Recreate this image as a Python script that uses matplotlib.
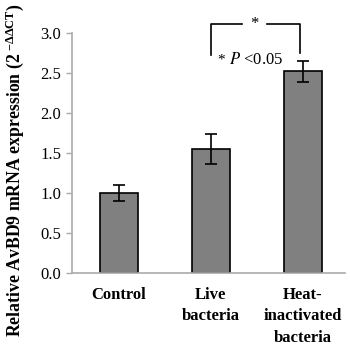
import matplotlib.pyplot as plt
import numpy as np

plt.rcParams['font.family'] = 'Liberation Serif'
plt.rcParams['mathtext.fontset'] = 'stix'

groups = ['Control', 'Live\nbacteria', 'Heat-\ninactivated\nbacteria']
expr = [1.0, 1.55, 2.52]
err = [0.1, 0.19, 0.13]

fig = plt.figure(figsize=(3.5, 3.47), dpi=100)
ax = fig.add_axes([0.206, 0.213, 0.78, 0.692])

x = np.arange(len(groups))
ax.bar(x, expr, width=0.41, color='#808080', edgecolor='black', linewidth=1.2,
       yerr=err, capsize=4, error_kw=dict(elinewidth=1.2, capthick=1.2, ecolor='black'))

ax.set_xlim(-0.51, 2.46)
ax.set_ylim(0, 3.0)
ticks = np.arange(0, 3.01, 0.5)
ax.set_yticks(ticks)
ax.set_yticklabels(['%.1f' % v for v in ticks], fontsize=12)
ax.set_xticks(x)
ax.set_xticklabels(groups, fontsize=12, fontweight='bold', linespacing=1.45)
ax.tick_params(axis='x', length=0, pad=10)
ax.tick_params(axis='y', length=4, color='#aaaaaa', width=1, pad=4)
for s in ['top', 'right']:
    ax.spines[s].set_visible(False)
for s in ['left', 'bottom']:
    ax.spines[s].set_color('#aaaaaa')
    ax.spines[s].set_linewidth(1.2)

ax.set_ylabel(r'Relative AvBD9 mRNA expression (2$^{\ \mathregular{-\Delta\Delta CT}}$)',
              fontsize=12.8, fontweight='bold')
ax.yaxis.set_label_coords(-0.17, 0.43)

# significance bracket
yb, yt = 2.72, 3.11
ax.plot([1, 1, 1.34], [yb, yt, yt], color='black', lw=1.2, clip_on=False)
ax.plot([1.61, 1.97, 1.97], [yt, yt, yb + 0.03], color='black', lw=1.2, clip_on=False)
ax.text(1.47, yt, '*', ha='center', va='center', fontsize=12)
ax.text(1.07, 2.66, '*', ha='left', va='center', fontsize=11)
ax.text(1.2, 2.66, r'$P$ <0.05', ha='left', va='center', fontsize=12)

fig.savefig('out.png', dpi=100)
